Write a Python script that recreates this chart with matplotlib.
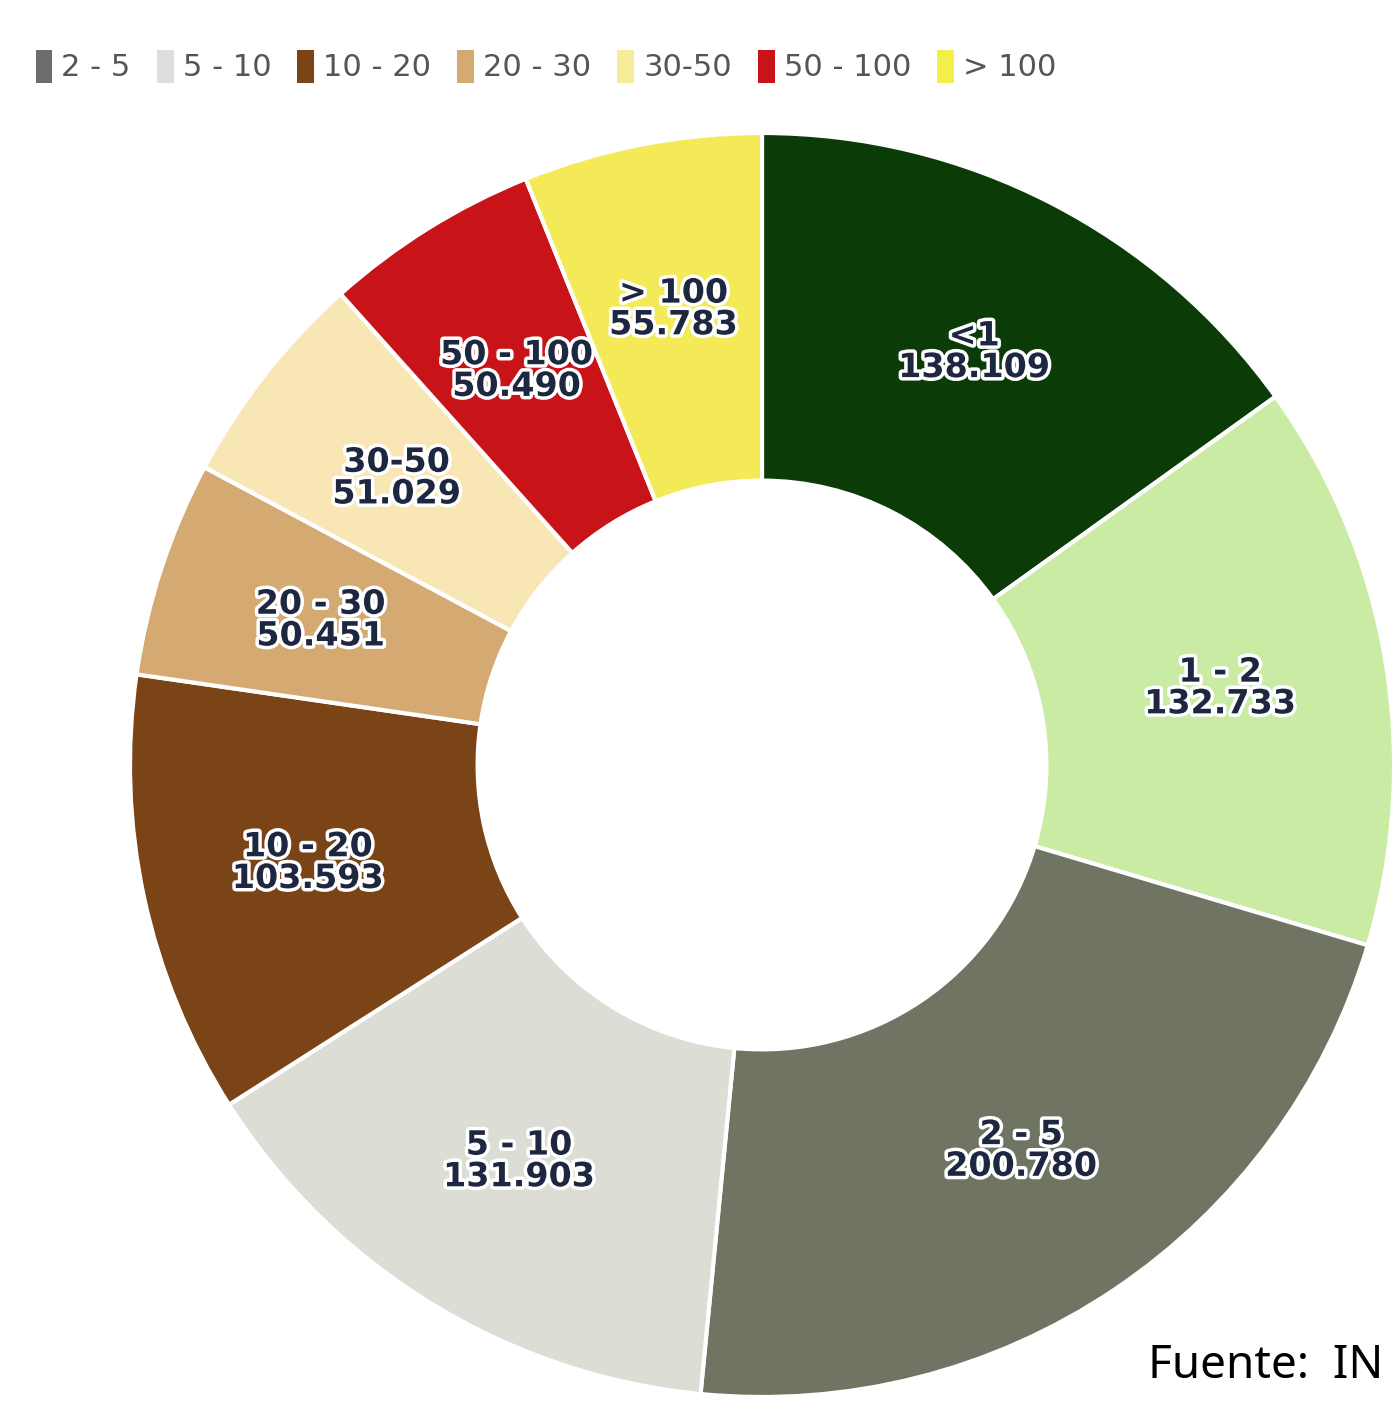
import numpy as np
import matplotlib
matplotlib.use("Agg")
import matplotlib.pyplot as plt
import matplotlib.patheffects as pe
from matplotlib.patches import Patch

# datos: explotaciones por tamaño (ha)
categorias = ["<1", "1 - 2", "2 - 5", "5 - 10", "10 - 20", "20 - 30", "30-50", "50 - 100", "> 100"]
valores = [138109, 132733, 200780, 131903, 103593, 50451, 51029, 50490, 55783]
colores = ["#0b3b07", "#c9eba3", "#6f7562", "#dcddd4", "#7a4417",
           "#d4aa72", "#f8e6b5", "#c81419", "#f4ea58"]

# la leyenda solo muestra desde "2 - 5"
leyenda_txt = ["2 - 5", "5 - 10", "10 - 20", "20 - 30", "30-50", "50 - 100", "> 100"]
leyenda_col = ["#6c6c6c", "#dedede", "#7a4417", "#d4aa72", "#f5ec9a", "#c81419", "#f4ee4a"]

W, H = 1395, 1411
fig = plt.figure(figsize=(W / 100, H / 100), dpi=100)
fig.patch.set_facecolor("white")
ax = fig.add_axes([0, 0, 1, 1])

cx, cy, R = 762, H - 765, 632
wedges, _ = ax.pie(valores, colors=colores, startangle=90, counterclock=False,
                   center=(cx, cy), radius=R,
                   wedgeprops=dict(width=R * 0.55, edgecolor="white", linewidth=3))
ax.set_xlim(0, W)
ax.set_ylim(0, H)
ax.set_aspect("equal")
ax.axis("off")

# etiquetas dentro del anillo
r_lab = R * 0.735
for w, cat, v in zip(wedges, categorias, valores):
    ang = np.deg2rad((w.theta1 + w.theta2) / 2)
    x = cx + r_lab * np.cos(ang)
    y = cy + r_lab * np.sin(ang)
    txt = f"{cat}\n{v:,}".replace(",", ".")
    ax.text(x, y, txt, ha="center", va="center", fontsize=24, fontweight="bold",
            color="#1d2740", family="DejaVu Sans", linespacing=0.95,
            path_effects=[pe.withStroke(linewidth=5, foreground="white")])

handles = [Patch(facecolor=c, edgecolor="none") for c in leyenda_col]
fig.legend(handles, leyenda_txt, loc="upper left", bbox_to_anchor=(8 / W, 1 - 22 / H),
           ncol=7, frameon=False, fontsize=22, labelcolor="#555555",
           handlelength=0.55, handleheight=1.3, handletextpad=0.3, columnspacing=0.85)

fig.text(1148 / W, 1 - 1366 / H, "Fuente:  IN", fontsize=33, color="black",
         family="Noto Sans", ha="left", va="center")

fig.savefig("out.png", dpi=100)
